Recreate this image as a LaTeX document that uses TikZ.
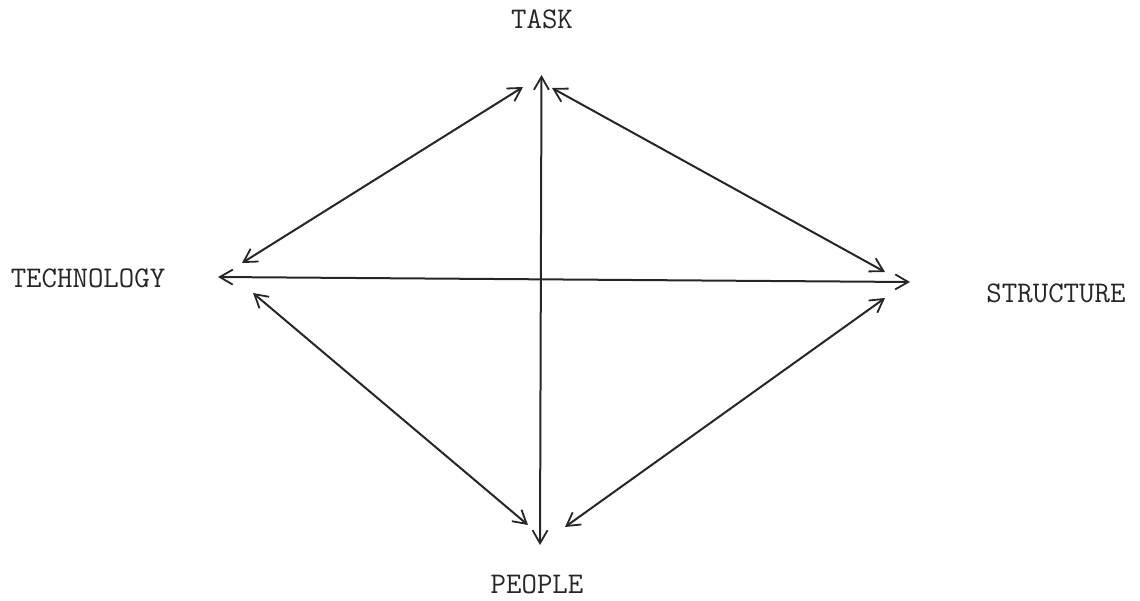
\documentclass[tikz,border=0pt]{standalone}
\usetikzlibrary{arrows.meta}
\tikzset{
  lbl/.style={font=\ttfamily\fontsize{30}{34}\selectfont, inner sep=0pt, anchor=base, text=black!85},
  link/.style={line width=2pt, black!85, {Straight Barb[length=13pt,width=15pt,line width=1.8pt]}-{Straight Barb[length=13pt,width=15pt,line width=1.8pt]}}
}
\begin{document}
\begin{tikzpicture}[x=1pt,y=-1pt]
\useasboundingbox (0,0) rectangle (1140,600);
\node[lbl] (task) at (542,28) {TASK};
\node[lbl] (tech) at (88,287) {TECHNOLOGY};
\node[lbl] (struct) at (1056,302) {STRUCTURE};
\node[lbl] (people) at (537,593) {PEOPLE};
% end points
\coordinate (vT) at (541.5,75);
\coordinate (vB) at (540,545);
\coordinate (hL) at (218,277);
\coordinate (hR) at (910,282);
\coordinate (tlA) at (523,87);
\coordinate (tlB) at (242,263);
\coordinate (trA) at (552,88);
\coordinate (trB) at (885,272);
\coordinate (blA) at (253,293);
\coordinate (blB) at (528,525);
\coordinate (brA) at (885,298);
\coordinate (brB) at (565,527);
\draw[link] (vT) -- (vB);
\draw[link] (hL) -- (hR);
\draw[link] (tlA) -- (tlB);
\draw[link] (trA) -- (trB);
\draw[link] (blA) -- (blB);
\draw[link] (brA) -- (brB);
\end{tikzpicture}
\end{document}
